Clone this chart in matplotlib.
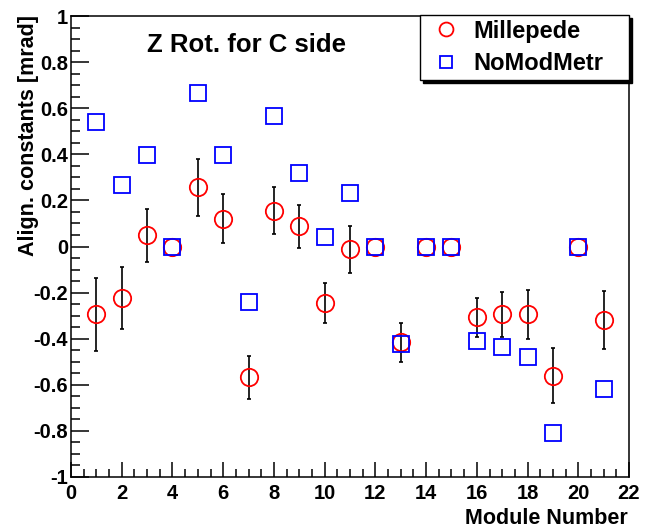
import matplotlib.pyplot as plt
from matplotlib.ticker import MultipleLocator, FixedFormatter, FixedLocator

# Datos
modulos = [1, 2, 3, 4, 5, 6, 7, 8, 9, 10, 11, 12, 13, 14, 15, 16, 17, 18, 19, 20, 21]
millepede = [-0.295, -0.225, 0.048, 0.0, 0.256, 0.121, -0.568, 0.156, 0.087, -0.247, -0.013,
             0.0, -0.416, 0.0, 0.0, -0.308, -0.295, -0.295, -0.560, 0.0, -0.317]
millepede_err = [0.16, 0.135, 0.115, 0.0, 0.125, 0.105, 0.095, 0.10, 0.095, 0.087, 0.10,
                 0.0, 0.083, 0.0, 0.0, 0.083, 0.098, 0.105, 0.12, 0.0, 0.126]
nomodmetr = [0.542, 0.265, 0.399, 0.0, 0.668, 0.399, -0.239, 0.568, 0.321, 0.043, 0.234,
             0.0, -0.425, 0.0, 0.0, -0.412, -0.434, -0.481, -0.807, 0.0, -0.618]

plt.rcParams['font.family'] = ['Liberation Sans', 'DejaVu Sans']
plt.rcParams['font.weight'] = 'bold'

fig = plt.figure(figsize=(6.46, 5.27), dpi=100)
ax = fig.add_axes([71 / 646, 1 - 477 / 527, 558 / 646, 461 / 527])

# barras de error sin marcador (los modulos fijos no tienen error)
x_err = [m for m, e in zip(modulos, millepede_err) if e > 0]
y_err = [v for v, e in zip(millepede, millepede_err) if e > 0]
e_err = [e for e in millepede_err if e > 0]
ax.errorbar(x_err, y_err, yerr=e_err, fmt='none', ecolor='black', elinewidth=1.2,
            capsize=1.5, capthick=1.2, zorder=2)
ax.plot(modulos, millepede, linestyle='none', marker='o', markersize=12.5,
        markerfacecolor='none', markeredgecolor='red', markeredgewidth=1.3,
        label='Millepede', zorder=3)
ax.plot(modulos, nomodmetr, linestyle='none', marker='s', markersize=11.5,
        markerfacecolor='none', markeredgecolor='blue', markeredgewidth=1.3,
        label='NoModMetr', zorder=4)

ax.set_xlim(0, 22)
ax.set_ylim(-1, 1)
ax.xaxis.set_major_locator(MultipleLocator(2))
ax.xaxis.set_minor_locator(MultipleLocator(0.5))
ax.yaxis.set_minor_locator(MultipleLocator(0.05))
ytk = [-1, -0.8, -0.6, -0.4, -0.2, 0, 0.2, 0.4, 0.6, 0.8, 1]
ax.yaxis.set_major_locator(FixedLocator(ytk))
ax.yaxis.set_major_formatter(FixedFormatter(['-1', '-0.8', '-0.6', '-0.4', '-0.2', '0',
                                             '0.2', '0.4', '0.6', '0.8', '1']))

ax.tick_params(axis='both', which='both', direction='in', width=1.1, labelsize=14.5,
               top=False, right=False)
ax.tick_params(axis='y', which='major', length=13, pad=2)
ax.tick_params(axis='y', which='minor', length=6.5)
ax.tick_params(axis='x', which='major', length=10.5, pad=5)
ax.tick_params(axis='x', which='minor', length=5.5)
for s in ax.spines.values():
    s.set_linewidth(1.1)

fig.text(29 / 646, 1 - 15 / 527, 'Align. constants [mrad]', rotation=90, ha='center',
         va='top', fontsize=15.5, fontweight='bold')
fig.text(628 / 646, 1 - 518 / 527, 'Module Number', ha='right', va='center',
         fontsize=15.5, fontweight='bold')
fig.text(147 / 646, 1 - 45 / 527, 'Z Rot. for C side', ha='left', va='center',
         fontsize=18.5, fontweight='bold')

leg = ax.legend(loc='upper left', bbox_to_anchor=(420 / 646, 1 - 15 / 527, 209 / 646, 0),
                bbox_transform=fig.transFigure, mode='expand', fancybox=False,
                shadow={'color': 'black', 'alpha': 1}, framealpha=1, edgecolor='black',
                fontsize=17, markerscale=0.8, handlelength=1.8, handletextpad=0.25,
                borderpad=0.2, labelspacing=0.4, borderaxespad=0)
leg.get_frame().set_linewidth(1.0)

plt.savefig('out.png', dpi=100)
plt.close()
